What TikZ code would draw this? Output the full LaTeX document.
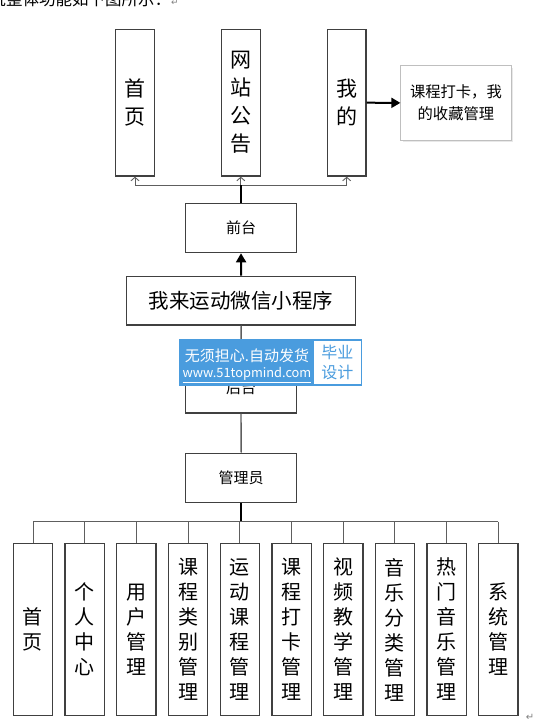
\documentclass[tikz,border=0pt]{standalone}
\usepackage{fontspec}
\setmainfont{Noto Sans CJK SC}
\newfontfamily\symfont{DejaVu Sans}
\usepackage{xcolor}
\usetikzlibrary{arrows.meta,shadows}

\definecolor{boxline}{HTML}{404040}
\definecolor{linkgray}{HTML}{5E5E5E}
\definecolor{markblue}{HTML}{4A9CDE}

\tikzset{
  mbox/.style={draw=boxline, line width=1.3pt, fill=white, inner sep=0pt, align=center},
  topcol/.style={mbox, minimum width=38.7pt, minimum height=146.7pt, font=\fontsize{21}{28}\selectfont},
  subcol/.style={mbox, minimum width=39.3pt, minimum height=172.4pt, font=\fontsize{20}{25}\selectfont},
  stage/.style={mbox, minimum width=111pt, minimum height=49.3pt, font=\fontsize{15}{18}\selectfont},
  thinlink/.style={draw=linkgray, line width=0.9pt},
  midlink/.style={draw=linkgray, line width=1.4pt},
  heavy/.style={draw=black, line width=2pt},
  barb/.style={-{Straight Barb[length=3.5pt,width=8pt]}},
  solidtip/.style={-{Triangle[length=9pt,width=10pt]}}
}

\begin{document}
\begin{tikzpicture}[x=1pt, y=-1pt]
    \useasboundingbox (0,0) rectangle (542,725);

    % Leading text line (cut at the top)
    \node[anchor=base west, inner sep=0pt, font=\fontsize{16.5}{18}\selectfont] (intro) at (-10.5,6)
        {统整体功能如下图所示：{\symfont\fontsize{9}{10}\selectfont\color{gray}↵}};

    % Front end
    \node[topcol] (home)   at (135,102.7)   {首\\页};
    \node[topcol] (notice) at (240.8,102.7) {网\\站\\公\\告};
    \node[topcol] (mine)   at (346.7,102.7) {我\\的};
    \node[draw=black!25, line width=0.8pt, fill=white, drop shadow={opacity=0.18, shadow xshift=2pt, shadow yshift=-2pt},
          minimum width=110.3pt, minimum height=74.3pt, inner sep=0pt, align=center,
          font=\fontsize{15.3}{21.6}\selectfont] (favs) at (455.9,102.9) {课程打卡，我\\的收藏管理};
    \draw[heavy, solidtip] (mine.east) -- (favs.west);

    \coordinate (tbus) at (241,185.3);
    \draw[thinlink] (home.south |- tbus) -- (mine.south |- tbus);
    \foreach \n in {home,notice,mine} {
        \draw[thinlink, barb] (\n.south |- tbus) -- (\n.south);
    }

    \node[stage] (front) at (241,228) {前台};
    \draw[heavy] (front.north) -- (tbus);

    % Mini program
    \node[mbox, minimum width=229pt, minimum height=48.7pt, font=\fontsize{20.5}{24}\selectfont] (app) at (241.2,300.7) {我来运动微信小程序};
    \draw[heavy, solidtip] (app.north) -- (front.south);

    % Back end
    \node[stage] (back)  at (241,388.2) {后台};
    \node[stage] (admin) at (241.2,477.8) {管理员};
    \draw[midlink] (app.south) -- (back.north);
    \draw[midlink] (back.south) -- (admin.north);

    \coordinate (abus) at (241.2,521.7);
    \draw[heavy] (admin.south) -- (abus);

    \foreach \lbl [count=\i from 0] in {首\\页, 个\\人\\中\\心, 用\\户\\管\\理, 课\\程\\类\\别\\管\\理,
        运\\动\\课\\程\\管\\理, 课\\程\\打\\卡\\管\\理, 视\\频\\教\\学\\管\\理,
        音\\乐\\分\\类\\管\\理, 热\\门\\音\\乐\\管\\理, 系\\统\\管\\理} {
        \node[subcol] (M\i) at ({33+51.7*\i},629.5) {\lbl};
        \draw[thinlink] (M\i.north |- abus) -- (M\i.north);
    }
    \draw[thinlink] (M0.north |- abus) -- (M9.north |- abus);

    % Watermark
    \fill[markblue] (179.3,339) rectangle (362.3,385.7);
    \fill[white] (314.3,340.5) rectangle (360.5,384.2);
    \node[text=white, inner sep=0pt, font=\fontsize{15}{17}\selectfont] (wm1) at (247,356) {无须担心.自动发货};
    \node[text=white, inner sep=0pt, font=\fontsize{12.8}{15}\selectfont] (wm2) at (247,375) {\underline{www.51topmind.com}};
    \node[text=markblue, inner sep=0pt, align=center, font=\fontsize{16}{20}\selectfont] (wm3) at (337.4,362.5) {毕业\\设计};

    % Paragraph mark
    \node[text=gray, font=\symfont\fontsize{10}{12}\selectfont] (pmark) at (530,717) {↵};
\end{tikzpicture}
\end{document}
